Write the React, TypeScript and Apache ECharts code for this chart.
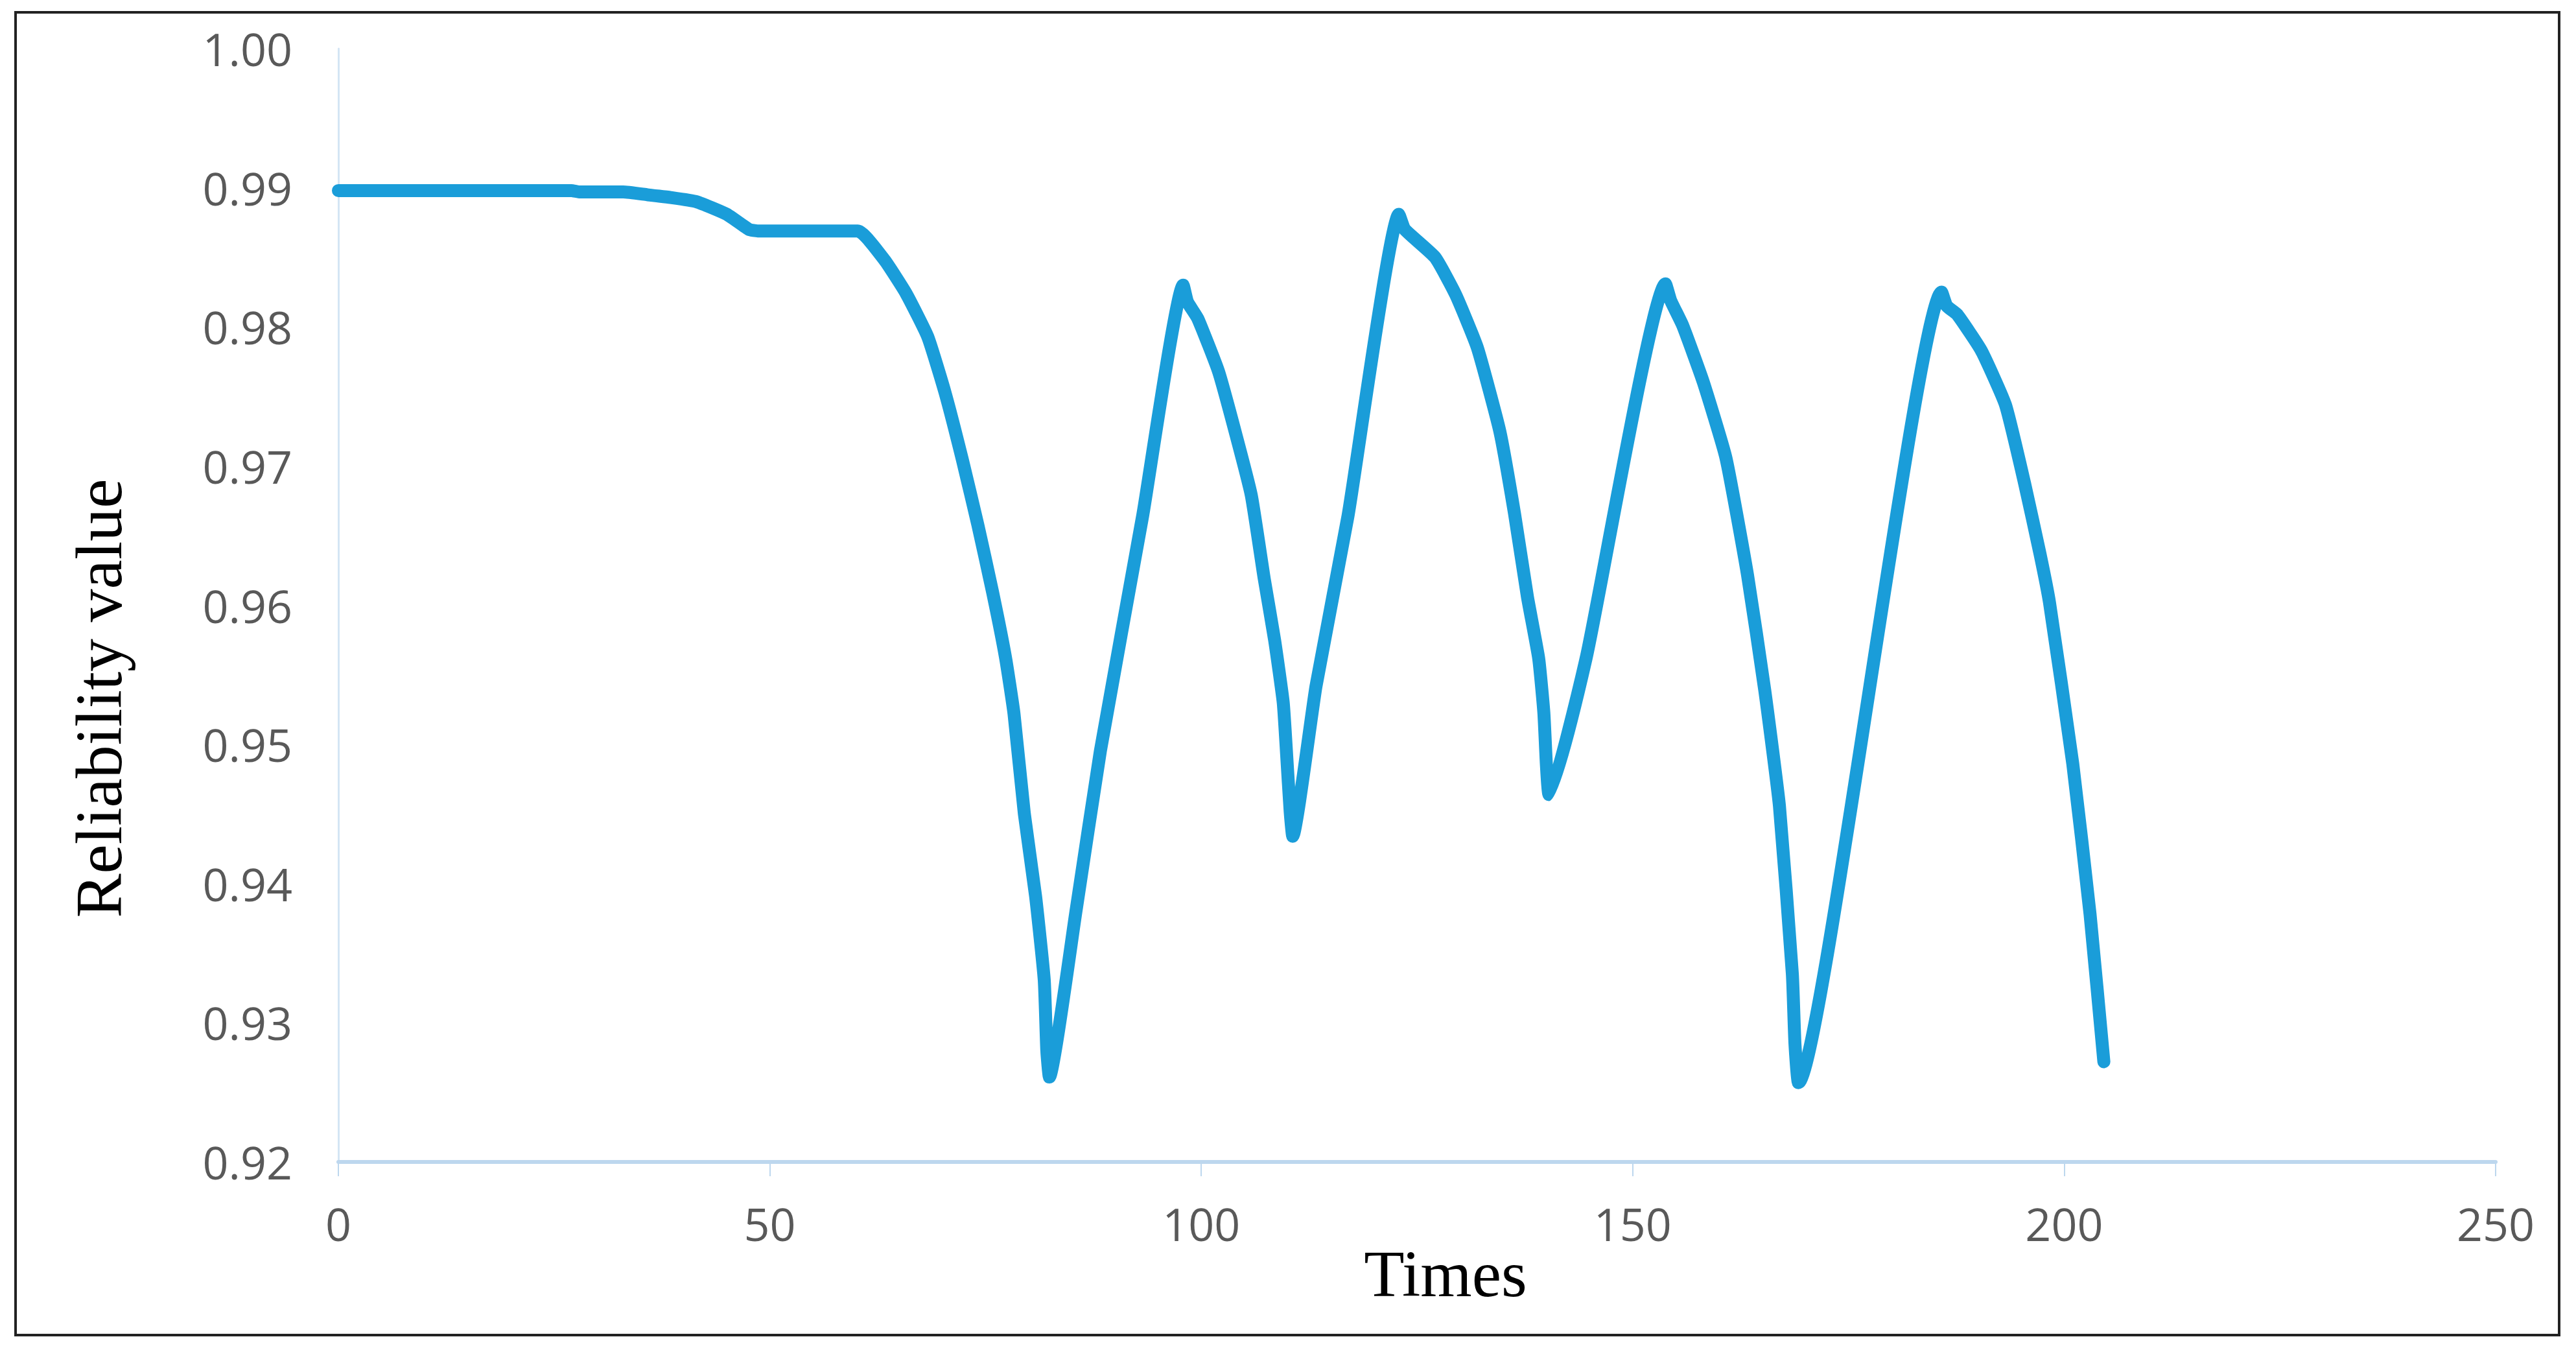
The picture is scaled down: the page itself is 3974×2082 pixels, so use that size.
import React, { useEffect, useRef } from "react";
import * as echarts from "echarts";

const xTicks = [0, 50, 100, 150, 200, 250];
const yTickLabels = ["0.92", "0.93", "0.94", "0.95", "0.96", "0.97", "0.98", "0.99", "1.00"];

const times = [
  0, 27, 28, 33, 35.8, 38.5, 41.5, 45, 47.6, 48.6, 60.2,
  63.3, 65.8, 68.3, 70.3, 72.3, 74.1, 75.8, 77.3, 78.3, 79.5, 80.8, 81.8, 82.1, 82.4,
  85.5, 88.3, 93.2, 97.9,
  98.4, 99.6, 102.0, 104.0, 105.8, 107.3, 108.5, 109.5, 109.9, 110.3, 110.6,
  113.3, 117.0, 122.9,
  123.6, 127.1, 129.5, 132.0, 134.6, 136.3, 137.8, 139.1, 139.7, 140.0, 140.3,
  144.6, 153.8,
  154.4, 155.8, 158.2, 160.8, 163.3, 165.3, 167.0, 168.5, 168.8, 169.2,
  185.8,
  186.4, 187.6, 190.4, 193.2, 195.4, 197.2, 198.3, 201.0, 203.0, 204.6,
];

const reliability = [
  0.9898, 0.9898, 0.9897, 0.9897, 0.9895, 0.9893, 0.989, 0.9881, 0.987, 0.9869, 0.9869,
  0.9848, 0.9824, 0.9793, 0.9753, 0.9705, 0.9658, 0.961, 0.9563, 0.9522, 0.945, 0.9391, 0.9331, 0.928, 0.9261,
  0.9381, 0.9495, 0.9664, 0.983,
  0.9818, 0.9806, 0.9768, 0.9723, 0.9679, 0.9619, 0.9575, 0.953, 0.9492, 0.9452, 0.9434,
  0.9542, 0.9664, 0.9881,
  0.987, 0.985, 0.9823, 0.9785, 0.9725, 0.9666, 0.9606, 0.9562, 0.9523, 0.9485, 0.9464,
  0.9562, 0.9831,
  0.9819, 0.9801, 0.976, 0.9706, 0.9622, 0.9539, 0.9456, 0.9335, 0.9285, 0.9257,
  0.9825,
  0.9815, 0.9809, 0.9783, 0.9744, 0.9688, 0.9637, 0.9602, 0.9486, 0.9378, 0.9272,
];

const xTitle = "Times";
const yTitle = "Reliability value";

export default function App() {
  const ref = useRef<HTMLDivElement>(null);

  useEffect(() => {
    if (!ref.current) return;
    const chart = echarts.init(ref.current, undefined, { renderer: "svg" });
    const yMin = Number(yTickLabels[0]);
    const yMax = Number(yTickLabels[yTickLabels.length - 1]);
    chart.setOption({
      animation: false,
      backgroundColor: "#ffffff",
      grid: { left: 522, right: 124, top: 75, bottom: 290, containLabel: false },
      xAxis: {
        type: "value",
        min: xTicks[0],
        max: xTicks[xTicks.length - 1],
        interval: xTicks[1] - xTicks[0],
        axisLine: { show: true, lineStyle: { color: "#bdd7ee", width: 6 } },
        axisTick: { show: true, length: 22, lineStyle: { color: "#bdd7ee", width: 2 } },
        splitLine: { show: false },
        axisLabel: {
          margin: 60,
          color: "#595959",
          fontFamily: "Open Sans",
          fontSize: 70,
        },
      },
      yAxis: {
        type: "value",
        min: yMin,
        max: yMax,
        interval: 0.01,
        axisLine: { show: true, lineStyle: { color: "#d4e5f4", width: 3 } },
        axisTick: { show: false },
        splitLine: { show: false },
        axisLabel: {
          margin: 71,
          color: "#595959",
          fontFamily: "Open Sans",
          fontSize: 70,
          formatter: (v: number) => v.toFixed(2),
        },
      },
      graphic: [
        {
          type: "rect",
          shape: { x: 24, y: 19, width: 3924, height: 2040 },
          style: { fill: "none", stroke: "#222222", lineWidth: 4 },
          z: 0,
        },
        {
          type: "text",
          x: 2230,
          y: 1964,
          style: {
            text: xTitle,
            font: '102px "Liberation Serif"',
            fill: "#000000",
            align: "center",
            verticalAlign: "middle",
            textAlign: "center",
            textVerticalAlign: "middle",
          },
        },
        {
          type: "text",
          x: 152,
          y: 1077,
          rotation: Math.PI / 2,
          style: {
            text: yTitle,
            font: '102px "Liberation Serif"',
            fill: "#000000",
            align: "center",
            verticalAlign: "middle",
            textAlign: "center",
            textVerticalAlign: "middle",
          },
        },
      ],
      series: [
        {
          type: "line",
          data: times.map((t, i) => [t, reliability[i]]),
          showSymbol: false,
          symbol: "none",
          smooth: 0.15,
          lineStyle: { color: "#1a9dd9", width: 20, cap: "round", join: "round" },
          z: 3,
        },
      ],
    });
    return () => chart.dispose();
  }, []);

  return (
    <div
      ref={ref}
      style={{ position: "fixed", left: 0, top: 0, width: "3974px", height: "2082px", background: "#fff" }}
    />
  );
}
